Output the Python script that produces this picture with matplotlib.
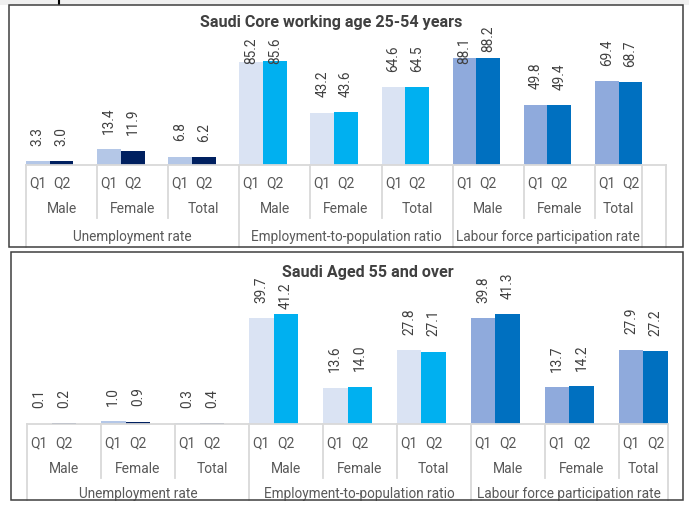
import matplotlib.pyplot as plt
from matplotlib.patches import Rectangle
from matplotlib.transforms import blended_transform_factory

plt.rcParams['font.family'] = ['Roboto', 'DejaVu Sans']

indicators = ['Unemployment rate', 'Employment-to-population ratio', 'Labour force participation rate']
genders = ['Male', 'Female', 'Total']
quarters = ['Q1', 'Q2']

core_q1 = [3.3, 13.4, 6.8, 85.2, 43.2, 64.6, 88.1, 49.8, 69.4]
core_q2 = [3.0, 11.9, 6.2, 85.6, 43.6, 64.5, 88.2, 49.4, 68.7]
older_q1 = [0.1, 1.0, 0.3, 39.7, 13.6, 27.8, 39.8, 13.7, 27.9]
older_q2 = [0.2, 0.9, 0.4, 41.2, 14.0, 27.1, 41.3, 14.2, 27.2]

q1_colors = ['#B4C7E7', '#DAE3F3', '#8FAADC']
q2_colors = ['#002060', '#00B0F0', '#0070C0']

W, H = 689, 505
fig = plt.figure(figsize=(W / 100, H / 100), dpi=100)

LINE = '#D9D9D9'
TXT = '#595959'
VAL = '#404040'


def fy(py):
    return 1 - py / H


def fx(px):
    return px / W


# grey strip along the top edge
fig.add_artist(Rectangle((0, fy(5)), 1, 5 / H, transform=fig.transFigure,
                         facecolor='#F0F0F0', edgecolor='none', zorder=0))
fig.add_artist(plt.Line2D([fx(59), fx(59)], [fy(0), fy(4)], transform=fig.transFigure,
                          color='black', lw=1.5))


def panel(box, left, right, base, top, ymax, extra_slot, q1, q2, title, title_xy,
          lvl_y, sep2_bottom, ceiling_px, gap_px):
    x0, y0, x1, y1 = box
    fig.add_artist(Rectangle((fx(x0), fy(y1)), fx(x1) - fx(x0), (y1 - y0) / H,
                             transform=fig.transFigure, fill=False,
                             edgecolor='#3F3F3F', lw=1.1, zorder=6))
    n_groups = len(indicators) * len(genders)
    n_slots = 3 * (n_groups - 1) + len(quarters) + extra_slot
    ax = fig.add_axes([fx(left), fy(base), fx(right) - fx(left), (base - top) / H])
    ax.set_xlim(0, n_slots)
    ax.set_ylim(0, ymax)
    ax.axis('off')
    tr = blended_transform_factory(ax.transData, fig.transFigure)

    labels = []
    for g in range(n_groups):
        ind = g // len(genders)
        for q, (vals, cols) in enumerate([(q1, q1_colors), (q2, q2_colors)]):
            x = 3 * g + q
            ax.bar(x, vals[g], width=1, align='edge', color=cols[ind])
            t = ax.annotate(f'{vals[g]:.1f}', (x + 0.5, vals[g]), xytext=(0, 11),
                            textcoords='offset points', rotation=90, ha='center',
                            va='bottom', fontsize=9.8, color=VAL, annotation_clip=False)
            labels.append(t)
            fig.text(x + 0.5, fy(lvl_y[0]), quarters[q], transform=tr, ha='center',
                     va='center', fontsize=10, color=TXT)
        g_end = 3 * g + (3 if g < n_groups - 1 else 2)
        fig.text((3 * g + g_end) / 2, fy(lvl_y[1]), genders[g % 3], transform=tr,
                 ha='center', va='center', fontsize=10, color=TXT)

    last = 3 * (n_groups - 1) + 2
    for i, name in enumerate(indicators):
        s = 9 * i
        e = min(s + 9, last)
        fig.text((s + e) / 2, fy(lvl_y[2]), name, transform=tr, ha='center',
                 va='center', fontsize=9.8, color=TXT)

    # axis line and category separators
    ax.plot([0, n_slots], [fy(base), fy(base)], transform=tr, color=LINE, lw=1.3,
            clip_on=False)
    for g in range(n_groups):
        xs = 3 * g
        bottom = y1 if g % 3 == 0 else sep2_bottom
        ax.plot([xs, xs], [fy(base), fy(bottom)], transform=tr, color=LINE, lw=1.3,
                clip_on=False)
    ends = [last] + ([n_slots] if extra_slot else [])
    for xs in ends:
        ax.plot([xs, xs], [fy(base), fy(y1)], transform=tr, color=LINE, lw=1.3,
                clip_on=False)

    ttl = fig.text(fx(title_xy[0]), fy(title_xy[1]), title, ha='center', va='center',
                   fontsize=11.6, fontweight='bold', color='#404040')

    # keep the labels inside the chart area and clear of the title
    fig.canvas.draw()
    tb = ttl.get_window_extent()
    ceiling = fig.bbox.height - ceiling_px
    for t in labels:
        bb = t.get_window_extent()
        limit = ceiling
        if bb.x1 > tb.x0 + 2 and bb.x0 < tb.x1 - 2:
            limit = min(limit, tb.y0 - gap_px)
        if bb.y1 > limit:
            shift = (bb.y1 - limit) * 72 / fig.dpi
            t.xyann = (0, t.xyann[1] - shift)


panel((9, 5, 683, 247), 26, 666, 165, 44, 100, 1, core_q1, core_q2,
      'Saudi Core working age 25-54 years', (331, 22), (183, 209, 237), 218, 25, 8)
panel((11, 252, 683, 500), 27, 668, 424, 304, 45, 0, older_q1, older_q2,
      'Saudi Aged 55 and over', (368, 273), (443, 469, 494), 478, 262, 2)

# hide what falls below the lower frame
fig.add_artist(Rectangle((0, 0), 1, 4.5 / H, transform=fig.transFigure,
                         facecolor='white', edgecolor='none', zorder=5))

fig.savefig('out.png', dpi=100)
